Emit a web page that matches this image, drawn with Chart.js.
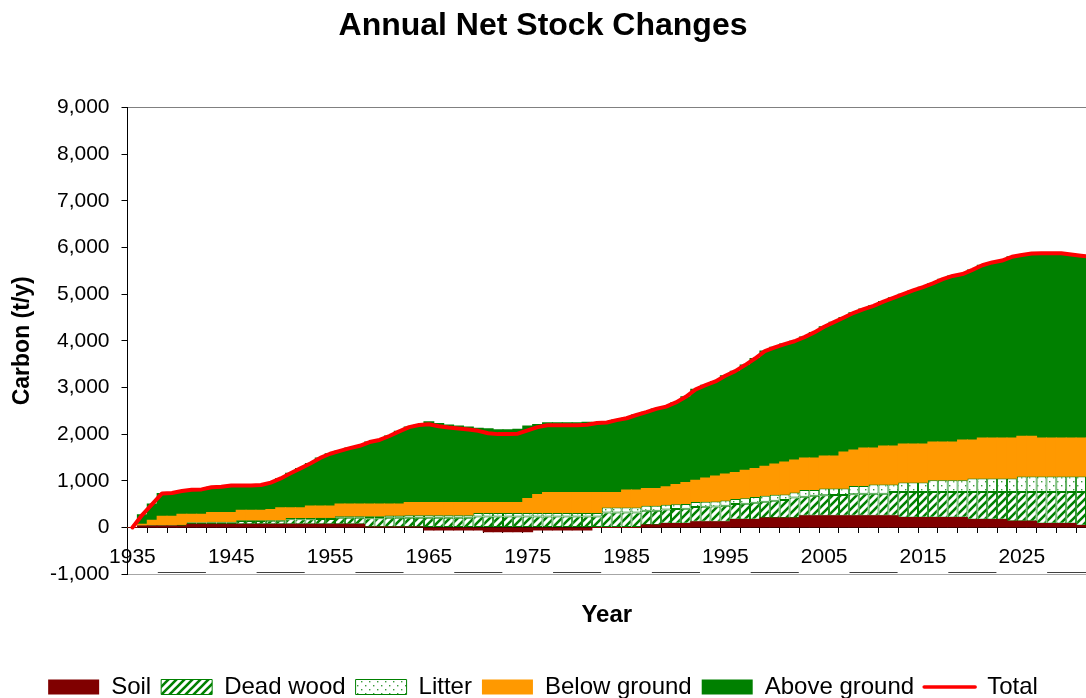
<!DOCTYPE html>
<html>
<head>
<meta charset="utf-8">
<title>Annual Net Stock Changes</title>
<script src="https://cdn.jsdelivr.net/npm/chart.js@4.4.1/dist/chart.umd.min.js"></script>
<style>
  html, body { margin: 0; padding: 0; background: #ffffff; overflow: hidden; }
  canvas { display: block; }
</style>
</head>
<body>
<canvas id="chart" width="1086" height="698"></canvas>
<script>
// ---- data (t/y of carbon) ----
const years = [
  1935,1936,1937,1938,1939,1940,1941,1942,1943,1944,1945,1946,1947,1948,1949,
  1950,1951,1952,1953,1954,1955,1956,1957,1958,1959,1960,1961,1962,1963,1964,
  1965,1966,1967,1968,1969,1970,1971,1972,1973,1974,1975,1976,1977,1978,1979,
  1980,1981,1982,1983,1984,1985,1986,1987,1988,1989,1990,1991,1992,1993,1994,
  1995,1996,1997,1998,1999,2000,2001,2002,2003,2004,2005,2006,2007,2008,2009,
  2010,2011,2012,2013,2014,2015,2016,2017,2018,2019,2020,2021,2022,2023,2024,
  2025,2026,2027,2028,2029,2030,2031,2032
];

const soil = [
  0,30,30,30,30,30,70,70,70,70,70,70,70,70,70,
  70,70,70,70,70,70,70,70,70,10,10,10,10,10,10,
  -55,-55,-55,-55,-55,-55,-95,-95,-95,-95,-95,-55,-55,-55,-55,
  -55,-55,0,0,0,0,0,50,50,85,85,85,120,120,120,
  120,170,170,170,200,200,200,200,250,250,250,250,250,250,250,
  250,250,250,215,215,215,215,215,215,215,172,172,172,172,130,
  130,130,86,86,86,86,43,43
];

const deadWood = [
  0,10,15,15,15,20,35,35,40,40,40,70,70,70,75,
  75,105,105,105,110,110,140,140,140,185,185,195,195,200,200,
  205,205,205,205,205,235,235,235,235,235,235,235,235,235,235,
  235,235,235,320,320,320,320,310,310,300,310,315,320,325,330,
  345,330,340,360,350,370,390,443,410,428,440,443,443,460,471,
  471,471,507,542,542,542,542,542,542,542,585,585,585,585,627,
  627,627,671,671,671,671,714,714
];

const litter = [
  0,5,5,5,5,5,10,10,10,10,10,15,15,15,15,
  15,25,25,25,25,25,30,30,30,45,45,50,50,50,50,
  55,58,58,58,58,75,75,75,75,75,75,75,75,75,75,
  75,75,75,108,108,108,108,104,104,100,100,100,105,105,105,
  110,110,115,120,130,130,117,107,140,122,146,143,143,176,165,
  201,201,165,208,208,208,257,257,257,257,293,293,293,293,293,
  336,336,336,336,336,336,336,336
];

const belowGround = [
  0,25,105,190,190,230,170,170,200,200,200,215,215,215,225,
  260,220,220,257,252,252,260,260,260,260,260,245,245,276,276,
  276,273,273,273,273,226,226,226,226,226,312,397,440,440,440,
  440,440,440,322,322,372,372,372,372,385,427,465,469,507,545,
  568,569,603,615,634,657,693,693,686,686,693,693,779,771,814,
  778,821,821,821,821,821,815,815,815,858,822,865,865,865,865,
  864,864,822,822,822,822,822,822
];

const aboveGround = [
  0,200,345,490,500,495,525,530,540,550,580,530,530,540,575,
  630,740,845,913,1033,1123,1140,1200,1250,1330,1375,1460,1560,1614,1659,
  1729,1689,1659,1639,1619,1589,1579,1559,1559,1569,1553,1498,1495,1495,1495,
  1495,1505,1490,1500,1550,1540,1610,1634,1704,1720,1758,1835,1946,1993,2030,
  2107,2171,2252,2355,2466,2503,2530,2547,2594,2694,2771,2871,2885,2943,2980,
  3050,3097,3177,3214,3294,3364,3401,3491,3561,3558,3648,3705,3765,3805,3885,
  3883,3913,3960,3960,3960,3935,3910,3885
];

const total = [
  0,270,500,730,740,780,810,815,860,870,900,900,900,910,960,
  1050,1160,1265,1370,1490,1580,1640,1700,1750,1830,1875,1960,2060,2150,2195,
  2210,2170,2140,2120,2100,2070,2020,2000,2000,2010,2080,2150,2190,2190,2190,
  2190,2200,2240,2250,2300,2340,2410,2470,2540,2590,2680,2800,2960,3050,3130,
  3250,3350,3480,3620,3780,3860,3930,3990,4080,4180,4300,4400,4500,4600,4680,
  4750,4840,4920,5000,5080,5150,5230,5320,5390,5430,5520,5620,5680,5720,5800,
  5840,5870,5875,5875,5875,5850,5825,5800
];

const yearLabels = [1935, 1945, 1955, 1965, 1975, 1985, 1995, 2005, 2015, 2025];

// ---- styling helpers ----
const FONT = "'Liberation Sans', Arial, Helvetica, sans-serif";
Chart.defaults.font.family = FONT;
Chart.defaults.color = '#000000';

const GREEN = '#008000';

function hatchFill() {
  const c = document.createElement('canvas');
  c.width = 8; c.height = 8;
  const g = c.getContext('2d');
  g.fillStyle = '#ffffff';
  g.fillRect(0, 0, 8, 8);
  g.strokeStyle = GREEN;
  g.lineWidth = 2.6;
  g.beginPath();
  g.moveTo(-2, 10); g.lineTo(10, -2);
  g.moveTo(-2, 2);  g.lineTo(2, -2);
  g.moveTo(6, 10);  g.lineTo(10, 6);
  g.stroke();
  return g.createPattern(c, 'repeat');
}

function dotFill() {
  const c = document.createElement('canvas');
  c.width = 8; c.height = 8;
  const g = c.getContext('2d');
  g.fillStyle = '#ffffff';
  g.fillRect(0, 0, 8, 8);
  g.fillStyle = '#3a9a3a';
  g.fillRect(1, 1, 1.4, 1.4);
  g.fillRect(5, 5, 1.4, 1.4);
  return g.createPattern(c, 'repeat');
}

const pts = arr => years.map((yr, i) => ({ x: yr, y: arr[i] }));

const X_MIN = 1934.5, X_MAX = 2031.5;

const barCommon = {
  type: 'bar',
  xAxisID: 'x',
  yAxisID: 'y',
  stack: 'carbon',
  barPercentage: 1,
  categoryPercentage: 1,
  borderWidth: 0,
  borderSkipped: false,
  inflateAmount: 0.5,
  order: 1
};

// thin dark rule under the category labels, drawn first so label boxes sit over it
const lowerRule = {
  id: 'lowerRule',
  beforeDraw(chart) {
    const { ctx, chartArea, scales } = chart;
    const y = Math.round(scales.y.getPixelForValue(-1000)) - 1.5;
    ctx.save();
    ctx.strokeStyle = '#404040';
    ctx.lineWidth = 1;
    ctx.beginPath();
    ctx.moveTo(chartArea.left, y);
    ctx.lineTo(chartArea.right, y);
    ctx.stroke();
    ctx.restore();
  }
};

new Chart(document.getElementById('chart'), {
  type: 'bar',
  data: {
    datasets: [
      { ...barCommon, label: 'Soil', data: pts(soil), backgroundColor: '#800000' },
      { ...barCommon, label: 'Dead wood', data: pts(deadWood), backgroundColor: hatchFill(), borderColor: GREEN, borderWidth: 1, inflateAmount: 0 },
      { ...barCommon, label: 'Litter', data: pts(litter), backgroundColor: dotFill(), borderColor: GREEN, borderWidth: 1, inflateAmount: 0 },
      { ...barCommon, label: 'Below ground', data: pts(belowGround), backgroundColor: '#FF9900' },
      { ...barCommon, label: 'Above ground', data: pts(aboveGround), backgroundColor: GREEN },
      {
        type: 'line', label: 'Total', data: pts(total),
        xAxisID: 'x', yAxisID: 'y',
        borderColor: '#FF0000', backgroundColor: '#FF0000',
        borderWidth: 4, pointRadius: 0, tension: 0, fill: false,
        borderJoinStyle: 'round', borderCapStyle: 'round',
        order: 0
      }
    ]
  },
  options: {
    responsive: false,
    animation: false,
    devicePixelRatio: 1,
    events: [],
    layout: { padding: { top: 0, left: 0, right: 0, bottom: -11 } },
    plugins: {
      tooltip: { enabled: false },
      title: {
        display: true,
        text: 'Annual Net Stock Changes',
        color: '#000000',
        font: { size: 32, weight: 'bold' },
        padding: { top: 7, bottom: 62.1 }
      },
      legend: {
        position: 'bottom',
        labels: {
          usePointStyle: true,
          pointStyleWidth: 51,
          boxHeight: 15,
          padding: 10,
          color: '#000000',
          font: { size: 24 },
          sort: (a, b) => a.datasetIndex - b.datasetIndex,
          generateLabels(chart) {
            const items = Chart.defaults.plugins.legend.labels.generateLabels(chart);
            return items.map(it => {
              const ds = chart.data.datasets[it.datasetIndex];
              if (ds.type === 'line') {
                return { ...it, pointStyle: 'line', lineWidth: 3.5, strokeStyle: '#FF0000', lineCap: 'round' };
              }
              return {
                ...it,
                pointStyle: 'rect',
                lineWidth: ds.borderWidth || 0,
                strokeStyle: ds.borderColor || 'rgba(0,0,0,0)'
              };
            });
          }
        }
      }
    },
    scales: {
      x: {
        type: 'linear',
        position: { y: 0 },
        min: X_MIN, max: X_MAX,
        offset: false,
        stacked: true,
        z: 1,
        grid: { display: false, drawTicks: false, offset: false },
        border: { display: true, color: '#000000', width: 1 },
        afterBuildTicks: s => { s.ticks = yearLabels.map(v => ({ value: v })); },
        ticks: {
          autoSkip: false,
          maxRotation: 0,
          padding: 17.5,
          color: '#000000',
          font: { size: 21 },
          callback: v => String(v),
          showLabelBackdrop: true,
          backdropColor: '#ffffff',
          backdropPadding: { top: 2, bottom: 3.5, left: 2, right: 2 }
        }
      },
      xMarks: {
        type: 'linear',
        position: { y: 0 },
        min: X_MIN, max: X_MAX,
        offset: false,
        z: 1,
        grid: { display: true, drawOnChartArea: false, drawTicks: true, tickLength: 6, color: '#000000', lineWidth: 1, offset: false },
        border: { display: false },
        ticks: { display: false },
        afterBuildTicks: s => {
          const marks = [];
          for (let v = X_MIN + 2; v < X_MAX; v += 2) marks.push({ value: v });
          s.ticks = marks;
        }
      },
      xTitle: {
        type: 'linear',
        position: 'bottom',
        min: X_MIN, max: X_MAX,
        offset: false,
        grid: { display: false, drawTicks: false },
        border: { display: true, color: '#a6a6a6', width: 1 },
        ticks: { display: false },
        title: {
          display: true,
          text: 'Year',
          color: '#000000',
          font: { size: 24, weight: 'bold' },
          padding: { top: 26.5, bottom: 35.6 }
        }
      },
      xTop: {
        type: 'linear',
        position: 'top',
        min: X_MIN, max: X_MAX,
        offset: false,
        grid: { display: false, drawTicks: false },
        border: { display: true, color: '#808080', width: 1 },
        ticks: { display: false }
      },
      y: {
        type: 'linear',
        position: 'left',
        min: -1000, max: 9000,
        stacked: true,
        afterFit: s => { s.width = 127.5; },
        grid: { display: true, drawOnChartArea: false, drawTicks: true, tickLength: 6, color: '#000000', lineWidth: 1 },
        border: { display: true, color: '#000000', width: 1 },
        ticks: {
          stepSize: 1000,
          padding: 12,
          color: '#000000',
          font: { size: 21 },
          callback: v => Number(v).toLocaleString('en-US')
        },
        title: {
          display: true,
          text: 'Carbon (t/y)',
          color: '#000000',
          font: { size: 23, weight: 'bold' },
          padding: { top: 9, bottom: 0 }
        }
      }
    }
  },
  plugins: [lowerRule]
});
</script>
</body>
</html>
